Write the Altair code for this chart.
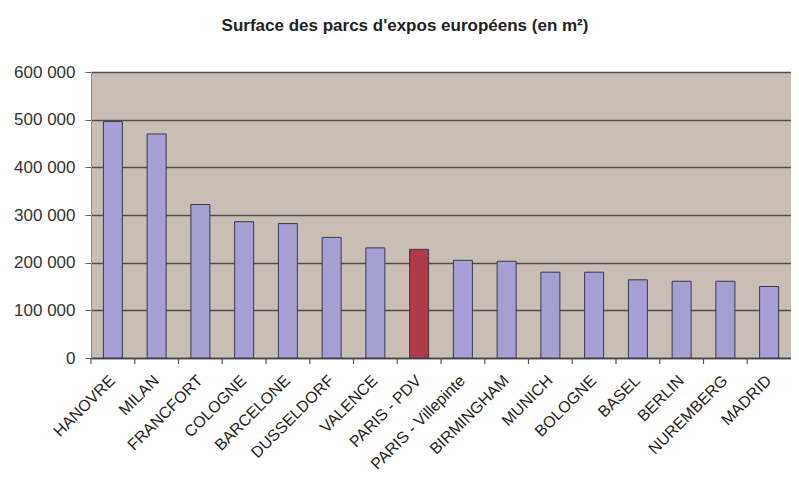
import altair as alt
import pandas as pd

cities = ["HANOVRE", "MILAN", "FRANCFORT", "COLOGNE", "BARCELONE", "DUSSELDORF",
          "VALENCE", "PARIS - PDV", "PARIS - Villepinte", "BIRMINGHAM", "MUNICH",
          "BOLOGNE", "BASEL", "BERLIN", "NUREMBERG", "MADRID"]
surfaces = [496000, 470000, 322000, 286000, 282000, 253000,
            231000, 228000, 205000, 203000, 180000,
            180000, 164000, 161000, 161000, 150000]
groups = ["autre"] * 7 + ["paris"] + ["autre"] * 8
y_ticks = [0, 100000, 200000, 300000, 400000, 500000, 600000]

df = pd.DataFrame({"ville": cities, "surface": surfaces, "groupe": groups})

W, H = 700, 286

base = alt.Chart(df)

x_axis = alt.Axis(labelAngle=-45, labelFont="Liberation Sans",
                  labelFontSize=16, labelColor="#222222",
                  ticks=False, domainColor="#444444", domainWidth=1.5,
                  labelPadding=14, labelOffset=-6, labelLimit=220)

bars = base.mark_bar(size=19, stroke="#3a3a4a", strokeWidth=1).encode(
    x=alt.X("ville:N", sort=None, title=None,
            scale=alt.Scale(paddingInner=0, paddingOuter=0),
            axis=x_axis),
    y=alt.Y("surface:Q", title=None,
            scale=alt.Scale(domain=[0, 600000], nice=False),
            axis=alt.Axis(values=y_ticks, grid=True, gridColor="#4e4e4e",
                          gridWidth=1.5, tickColor="#666666", tickSize=6,
                          domainColor="#8a8a8a", labelFont="Liberation Sans",
                          labelFontSize=17, labelColor="#333333", labelPadding=10,
                          labelExpr="datum.value == 0 ? '0' : format(datum.value / 1000, 'd') + ' 000'")),
    color=alt.Color("groupe:N", legend=None,
                    scale=alt.Scale(domain=["autre", "paris"],
                                    range=["#a59fd3", "#b03a4a"])),
)

ticks = base.mark_rule(color="#555555", strokeWidth=1.2).encode(
    x=alt.X("ville:N", sort=None, bandPosition=0, title=None, axis=x_axis),
    y=alt.value(H),
    y2=alt.value(H + 6),
)

chart = alt.layer(bars, ticks).properties(
    width=W, height=H,
    autosize=alt.AutoSizeParams(type="none"),
    padding={"left": 83, "top": 64, "right": 0, "bottom": 116},
    title=alt.TitleParams("Surface des parcs d'expos européens (en m²)",
                          font="Liberation Sans", fontSize=17, fontWeight="bold",
                          color="#222222", anchor="middle", dx=-36, offset=28),
).configure_view(fill="#c9beb5", stroke=None)

chart.save("out.html", embed_options={"renderer": "svg", "actions": False})
